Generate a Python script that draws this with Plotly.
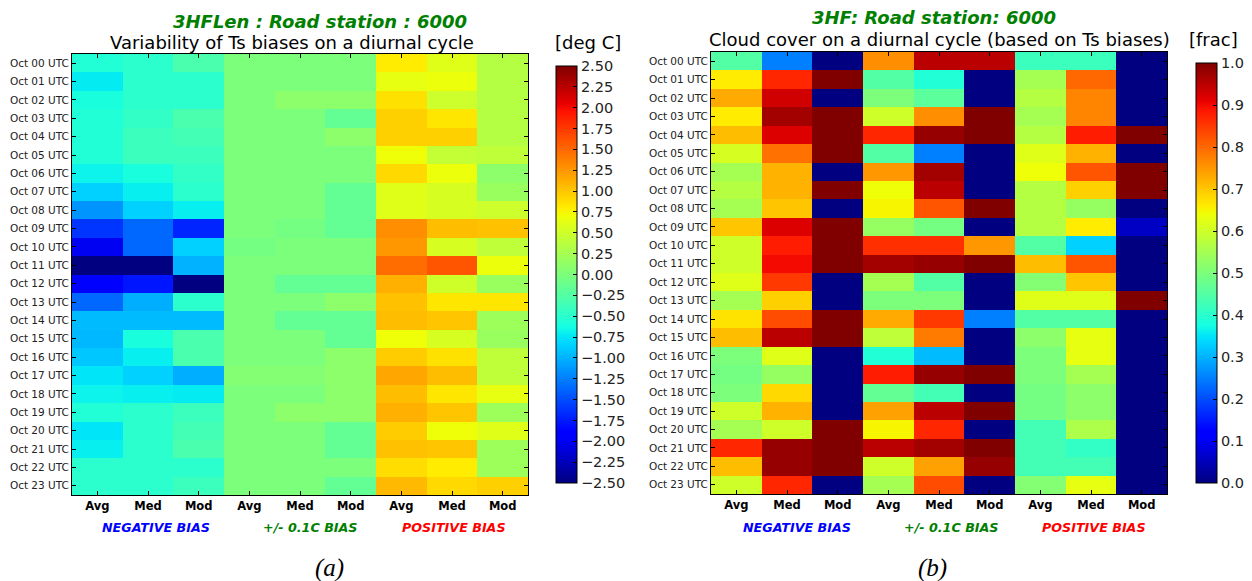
import numpy as np
import plotly.graph_objects as go

W, H = 1252, 581

hours = [f"Oct {h:02d} UTC" for h in range(24)]
stat_labels = ["Avg", "Med", "Mod", "Avg", "Med", "Mod", "Avg", "Med", "Mod"]

# ---- Panel (a): Ts bias [deg C] per hour, grouped by bias class ----
ts_neg_avg = [-0.55, -0.72, -0.6, -0.55, -0.55, -0.55, -0.68, -0.85, -1.15, -1.62, -2.0, -2.5,
              -1.9, -1.37, -0.95, -0.97, -0.9, -0.75, -0.68, -0.55, -0.75, -0.7, -0.5, -0.5]
ts_neg_med = [-0.5, -0.5, -0.5, -0.45, -0.4, -0.4, -0.6, -0.7, -0.85, -1.37, -1.37, -2.5,
              -1.77, -1.02, -0.95, -0.6, -0.7, -0.85, -0.7, -0.5, -0.5, -0.5, -0.5, -0.5]
ts_neg_mod = [-0.3, -0.5, -0.5, -0.3, -0.35, -0.4, -0.45, -0.5, -0.7, -1.7, -0.85, -1.0,
              -2.5, -0.5, -0.95, -0.3, -0.3, -1.02, -0.72, -0.4, -0.35, -0.3, -0.5, -0.4]
ts_zero_avg = [0.0, 0.0, 0.0, 0.0, 0.0, 0.0, 0.0, 0.0, 0.0, 0.0, -0.05, 0.0,
               0.0, 0.0, 0.0, 0.0, 0.0, 0.05, 0.0, 0.0, 0.0, 0.0, 0.0, 0.0]
ts_zero_med = [0.0, 0.0, 0.1, 0.0, 0.0, 0.0, 0.0, 0.0, 0.0, -0.05, 0.0, 0.0,
               -0.15, 0.0, -0.15, 0.0, 0.0, 0.05, 0.0, 0.1, 0.0, 0.0, 0.0, 0.0]
ts_zero_mod = [0.0, 0.0, 0.1, -0.15, 0.1, 0.0, 0.0, -0.15, -0.15, -0.15, 0.0, 0.0,
               -0.15, 0.1, -0.15, -0.15, 0.1, 0.1, 0.1, 0.1, -0.15, -0.15, 0.0, -0.15]
ts_pos_avg = [0.8, 0.65, 0.86, 0.95, 0.95, 0.7, 0.9, 0.6, 0.6, 1.3, 1.25, 1.48,
              1.12, 1.03, 1.05, 0.7, 0.97, 1.17, 1.05, 1.12, 0.97, 1.03, 0.88, 1.07]
ts_pos_med = [0.6, 0.68, 0.49, 0.83, 0.95, 0.43, 0.68, 0.55, 0.55, 1.05, 0.55, 1.6,
              0.5, 0.83, 1.0, 0.55, 0.86, 1.05, 0.83, 1.0, 0.7, 1.0, 0.8, 0.9]
ts_pos_mod = [0.34, 0.34, 0.34, 0.34, 0.34, 0.4, 0.1, 0.17, 0.49, 1.03, 0.4, 0.68,
              0.17, 0.83, 0.2, 0.17, 0.4, 0.4, 0.65, 0.2, 0.6, 0.2, 0.2, 0.95]

# ---- Panel (b): cloud cover fraction per hour, grouped by bias class ----
cc_neg_avg = [0.45, 0.66, 0.73, 0.66, 0.71, 0.61, 0.55, 0.57, 0.55, 0.7, 0.6, 0.6,
              0.62, 0.55, 0.67, 0.71, 0.5, 0.49, 0.5, 0.6, 0.55, 0.87, 0.71, 0.6]
cc_neg_med = [0.25, 0.87, 0.93, 0.97, 0.92, 0.79, 0.72, 0.72, 0.7, 0.92, 0.88, 0.9,
              0.85, 0.69, 0.83, 0.95, 0.62, 0.53, 0.68, 0.72, 0.6, 0.98, 0.98, 0.87]
cc_neg_mod = [0.0, 1.0, 0.0, 1.0, 1.0, 1.0, 0.0, 1.0, 0.0, 1.0, 1.0, 1.0,
              0.0, 0.0, 1.0, 1.0, 0.0, 0.0, 0.0, 0.0, 1.0, 1.0, 1.0, 0.0]
cc_zero_avg = [0.76, 0.45, 0.5, 0.6, 0.87, 0.45, 0.75, 0.64, 0.65, 0.53, 0.86, 0.97,
               0.55, 0.5, 0.73, 0.58, 0.39, 0.88, 0.47, 0.74, 0.65, 0.95, 0.6, 0.55]
cc_zero_med = [0.95, 0.39, 0.46, 0.76, 0.98, 0.25, 0.97, 0.95, 0.82, 0.49, 0.86, 0.98,
               0.45, 0.5, 0.85, 0.78, 0.31, 0.98, 0.43, 0.95, 0.87, 0.97, 0.74, 0.83]
cc_zero_mod = [0.95, 0.0, 0.0, 1.0, 1.0, 0.0, 0.0, 0.0, 1.0, 0.0, 0.75, 1.0,
               0.0, 0.0, 0.25, 0.0, 0.0, 1.0, 0.0, 1.0, 0.0, 1.0, 0.98, 0.0]
cc_pos_avg = [0.42, 0.55, 0.57, 0.55, 0.57, 0.62, 0.64, 0.57, 0.57, 0.57, 0.45, 0.71,
              0.51, 0.62, 0.45, 0.52, 0.5, 0.5, 0.49, 0.49, 0.43, 0.43, 0.43, 0.51]
cc_pos_med = [0.42, 0.8, 0.77, 0.77, 0.88, 0.72, 0.82, 0.69, 0.53, 0.66, 0.33, 0.82,
              0.7, 0.62, 0.45, 0.63, 0.63, 0.55, 0.52, 0.52, 0.56, 0.41, 0.43, 0.63]
cc_pos_mod = [0.0, 0.0, 0.0, 0.0, 1.0, 0.0, 1.0, 1.0, 0.0, 0.06, 0.0, 0.0,
              0.0, 1.0, 0.0, 0.0, 0.0, 0.0, 0.0, 0.0, 0.0, 0.0, 0.0, 0.0]

ts_columns = [ts_neg_avg, ts_neg_med, ts_neg_mod, ts_zero_avg, ts_zero_med,
              ts_zero_mod, ts_pos_avg, ts_pos_med, ts_pos_mod]
cc_columns = [cc_neg_avg, cc_neg_med, cc_neg_mod, cc_zero_avg, cc_zero_med,
              cc_zero_mod, cc_pos_avg, cc_pos_med, cc_pos_mod]

ts_z = np.array(ts_columns).T
cc_z = np.array(cc_columns).T


# classic "jet" colormap built from its piecewise-linear channel definitions
def jet_scale():
    r = ([0, 0.35, 0.66, 0.89, 1], [0, 0, 1, 1, 0.5])
    g = ([0, 0.125, 0.375, 0.64, 0.91, 1], [0, 0, 1, 1, 0, 0])
    b = ([0, 0.11, 0.34, 0.65, 1], [0.5, 1, 1, 0, 0])
    stops = sorted(set(r[0] + g[0] + b[0]))
    out = []
    for s in stops:
        rr, gg, bb = (np.interp(s, *c) for c in (r, g, b))
        out.append([s, f"rgb({round(rr*255)},{round(gg*255)},{round(bb*255)})"])
    return out


JET = jet_scale()
FONT = "DejaVu Sans"


def px(x):
    return x / W


def py(y):
    return 1 - y / H


cols = list(range(9))
rows = list(range(24))

fig = go.Figure()

fig.add_trace(go.Heatmap(
    z=ts_z, x=cols, y=rows, zmin=-2.5, zmax=2.5, colorscale=JET,
    xaxis="x", yaxis="y",
    colorbar=dict(
        x=px(556), xanchor="left", xpad=0, ypad=0,
        y=py((66 + 483) / 2), yanchor="middle",
        lenmode="pixels", len=417, thicknessmode="pixels", thickness=21,
        outlinewidth=1, outlinecolor="black",
        tickmode="array", tickvals=[round(-2.5 + 0.25 * i, 2) for i in range(21)],
        tickformat=".2f", ticks="inside", ticklen=4, tickcolor="black",
        tickfont=dict(family=FONT, size=14.5, color="#222"),
    ),
))

fig.add_trace(go.Heatmap(
    z=cc_z, x=cols, y=rows, zmin=0, zmax=1, colorscale=JET,
    xaxis="x2", yaxis="y2",
    colorbar=dict(
        x=px(1196), xanchor="left", xpad=0, ypad=0,
        y=py((63 + 483) / 2), yanchor="middle",
        lenmode="pixels", len=420, thicknessmode="pixels", thickness=21,
        outlinewidth=1, outlinecolor="black",
        tickmode="array", tickvals=[round(0.1 * i, 1) for i in range(11)],
        tickformat=".1f", ticks="inside", ticklen=4, tickcolor="black",
        tickfont=dict(family=FONT, size=14.5, color="#222"),
    ),
))

xticktext = [f"<b>{s}</b>" for s in stat_labels]


def xaxis_cfg(x0, x1, anchor):
    return dict(
        domain=[px(x0), px(x1)], range=[-0.5, 8.5], anchor=anchor,
        tickmode="array", tickvals=cols, ticktext=xticktext,
        tickfont=dict(family=FONT, size=11.5, color="black"),
        ticks="inside", ticklen=4, tickcolor="black",
        showline=True, linecolor="black", linewidth=1, mirror="ticks",
        showgrid=False, zeroline=False, fixedrange=True,
    )


def yaxis_cfg(y0, y1, anchor):
    return dict(
        domain=[py(y1), py(y0)], range=[23.5, -0.5], anchor=anchor,
        tickmode="array", tickvals=rows, ticktext=hours,
        tickfont=dict(family=FONT, size=10.5, color="#222"),
        ticks="inside", ticklen=4, tickcolor="black",
        showline=True, linecolor="black", linewidth=1, mirror="ticks",
        showgrid=False, zeroline=False, fixedrange=True,
    )


annotations = []


def text(x, y, s, size, color="black", family=FONT):
    annotations.append(dict(
        x=px(x), y=py(y), xref="paper", yref="paper", text=s, showarrow=False,
        xanchor="center", yanchor="middle",
        font=dict(family=family, size=size, color=color),
    ))


GREEN = "#008000"

# panel (a) headings
text(320, 22, "<b><i>3HFLen : Road station : 6000</i></b>", 18, GREEN)
text(292, 43, "Variability of Ts biases on a diurnal cycle", 18)
text(588, 43, "[deg C]", 18)
# panel (b) headings
text(934, 18, "<b><i>3HF: Road station: 6000</i></b>", 18, GREEN)
text(939, 40, "Cloud cover on a diurnal cycle (based on Ts biases)", 18)
text(1213, 40, "[frac]", 18)

# bias class labels under each panel
for xs in ((156, 310, 454), (797, 951, 1094)):
    text(xs[0], 527, "<b><i>NEGATIVE BIAS</i></b>", 12.7, "#0000ff")
    text(xs[1], 527, "<b><i>+/- 0.1C BIAS</i></b>", 12.7, GREEN)
    text(xs[2], 527, "<b><i>POSITIVE BIAS</i></b>", 12.7, "#ff0000")

# panel letters
text(329, 568, "<i>(a)</i>", 25, family="Liberation Serif")
text(932, 568, "<i>(b)</i>", 25, family="Liberation Serif")

fig.update_layout(
    width=W, height=H, margin=dict(l=0, r=0, t=0, b=0),
    paper_bgcolor="white", plot_bgcolor="white",
    xaxis=xaxis_cfg(72, 528, "y"),
    yaxis=yaxis_cfg(54, 495, "x"),
    xaxis2=xaxis_cfg(711, 1167, "y2"),
    yaxis2=yaxis_cfg(52, 494, "x2"),
    annotations=annotations,
    showlegend=False,
)

fig.write_html("out.html")
